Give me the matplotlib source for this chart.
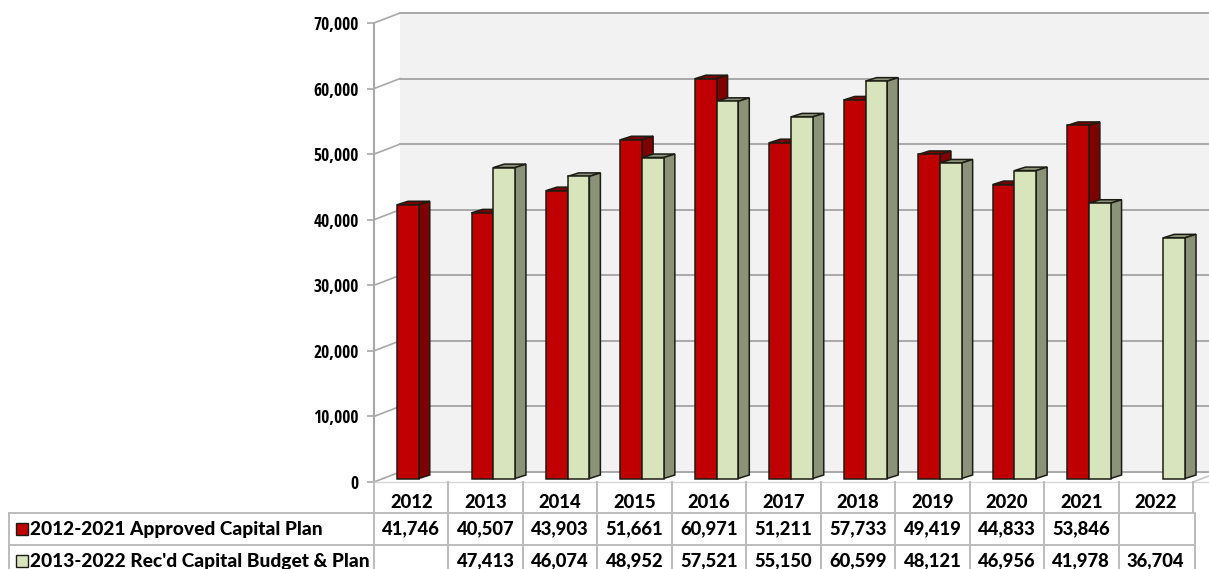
import matplotlib
matplotlib.use('Agg')
import matplotlib.pyplot as plt
from matplotlib.patches import Polygon, Rectangle

years = ['2012', '2013', '2014', '2015', '2016', '2017', '2018', '2019', '2020', '2021', '2022']
approved = [41746, 40507, 43903, 51661, 60971, 51211, 57733, 49419, 44833, 53846, None]
recd = [None, 47413, 46074, 48952, 57521, 55150, 60599, 48121, 46956, 41978, 36704]
names = ['2012-2021 Approved Capital Plan', "2013-2022 Rec'd Capital Budget & Plan"]
yticks = list(range(0, 70001, 10000))

W, H = 1209, 569
LEFT, RIGHT, TOP, BOTTOM = 374, 1193, 23, 482
GRID = '#a8a8a8'
TABLE = '#bcbcbc'
EDGE = '#1c1c14'
TABLE_FONT = dict(family='Lato', fontweight=900, fontsize=13.2, color='black')
NAME_FONT = dict(family='Lato', fontweight=900, fontsize=13.75, color='black')

fig = plt.figure(figsize=(W / 100, H / 100), dpi=100)
ax = fig.add_axes([LEFT / W, 1 - BOTTOM / H, (RIGHT - LEFT) / W, (BOTTOM - TOP) / H])
ax.set_xlim(0, len(years))
ax.set_ylim(0, 70000)

# pixels to data units
px = len(years) / (RIGHT - LEFT)
py = 70000 / (BOTTOM - TOP)

wall_dx, wall_dy = 26 * px, 10 * py
depth_x, depth_y = 11 * px, 3.5 * py
base = 3.5 * py
bar_w = 21.7 * px


def box(x, v, front, side, top):
    y0 = base
    y1 = base + v
    x1 = x + bar_w
    ax.add_patch(Polygon([(x, y1), (x + depth_x, y1 + depth_y), (x1 + depth_x, y1 + depth_y), (x1, y1)],
                         fc=top, ec=EDGE, lw=1.1, zorder=5, clip_on=False))
    ax.add_patch(Polygon([(x1, y0), (x1 + depth_x, y0 + depth_y), (x1 + depth_x, y1 + depth_y), (x1, y1)],
                         fc=side, ec=EDGE, lw=1.1, zorder=5, clip_on=False))
    ax.bar(x, v, bar_w, bottom=y0, align='edge', color=front, edgecolor=EDGE, lw=1.1, zorder=5, clip_on=False)


# back wall and gridlines
x_wall = wall_dx
x_end = len(years) + 30 * px
ax.add_patch(Rectangle((x_wall, wall_dy), x_end - x_wall, 70000, fc='#f2f2f2', ec='none', zorder=0, clip_on=False))
for t in yticks:
    ax.plot([0, x_wall], [t, t + wall_dy], color=GRID, lw=1.2, zorder=1, clip_on=False)
    ax.plot([x_wall, x_end], [t + wall_dy, t + wall_dy], color=GRID, lw=1.4, zorder=1, clip_on=False)
ax.plot([0, x_end], [0, 0], color='#d8d8d8', lw=1.0, zorder=1, clip_on=False)
ax.plot([len(years), len(years) + wall_dx], [0, wall_dy], color='#c8c8c8', lw=1.2, zorder=1, clip_on=False)

for i in range(len(years)):
    if approved[i] is not None:
        box(i + 0.31, approved[i], '#c00000', '#7f0000', '#7f0000')
    if recd[i] is not None:
        box(i + 0.31 + bar_w, recd[i], '#d8e4bc', '#8a9278', '#8a9278')

for s in ['top', 'right', 'bottom']:
    ax.spines[s].set_visible(False)
ax.spines['left'].set_color(GRID)
ax.spines['left'].set_linewidth(1.5)
ax.patch.set_alpha(0)

ax.set_yticks(yticks)
ax.set_yticklabels([f'{t:,}' for t in yticks], family='Open Sans Condensed', fontweight='bold', fontsize=12.6, color='black')
ax.tick_params(axis='y', length=5, width=1.2, color=GRID, pad=6)
ax.set_xticks([i + 0.5 for i in range(len(years))])
ax.set_xticklabels(years, **TABLE_FONT)
ax.tick_params(axis='x', length=0, pad=9)

# data table below the plot, in pixel coordinates
tb = fig.add_axes([0, 0, 1, 1], zorder=3)
tb.set_xlim(0, W)
tb.set_ylim(H, 0)
tb.axis('off')

col_w = (RIGHT - LEFT) / len(years)
col_x = [LEFT + i * col_w for i in range(len(years) + 1)]
row_y = [513, 545, 577]
for x in col_x[:-1]:
    tb.plot([x, x], [482, H], color=TABLE, lw=1.4)
tb.plot([col_x[-1], col_x[-1]], [482, 513], color=TABLE, lw=1.4)
tb.plot([9, 9], [513, H], color=TABLE, lw=1.4)
tb.plot([1195, 1195], [513, H], color=TABLE, lw=1.4)
for y in row_y[:2]:
    tb.plot([9, 1195], [y, y], color=TABLE, lw=1.4)

swatches = [('#c00000', 523), ('#d8e4bc', 555)]
for r, (name, vals) in enumerate(zip(names, [approved, recd])):
    yc = row_y[r] + 16
    tb.add_patch(Rectangle((16, swatches[r][1]), 12, 11.5, fc=swatches[r][0], ec=EDGE, lw=1.0))
    tb.text(30, yc, name, ha='left', va='center', **NAME_FONT)
    for i, v in enumerate(vals):
        if v is not None:
            tb.text(col_x[i] + col_w / 2, yc, f'{v:,}', ha='center', va='center', **TABLE_FONT)

fig.savefig('out.png', dpi=100)
